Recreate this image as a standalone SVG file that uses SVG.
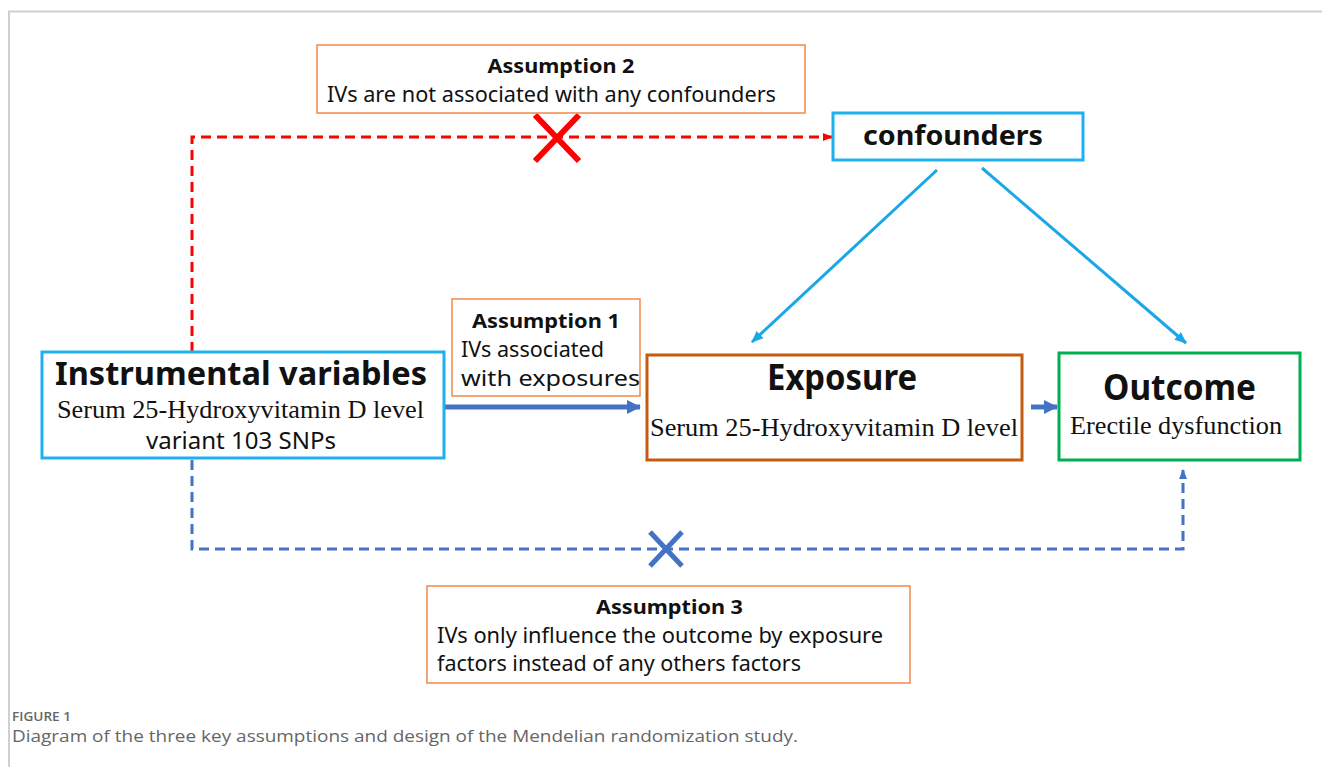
<svg xmlns="http://www.w3.org/2000/svg" width="1322" height="767" viewBox="0 0 1322 767">
<style>
.sans{font-family:"Noto Sans","Liberation Sans",Arial,sans-serif;fill:#111}
.b{font-weight:bold}
.serif{font-family:"Liberation Serif","Times New Roman",serif;fill:#111}
.abox{fill:#fff;stroke:#f0894a;stroke-width:1.5}
.cap{font-family:"Open Sans","Lato","Liberation Sans",sans-serif;fill:#666}
</style>
<defs>
<marker id="mRed" markerUnits="userSpaceOnUse" markerWidth="10" markerHeight="10" refX="9" refY="5" orient="auto"><path d="M0,1 L10,5 L0,9 Z" fill="#ff0000"/></marker>
<marker id="mLB" markerUnits="userSpaceOnUse" markerWidth="12" markerHeight="12" refX="11" refY="6" orient="auto"><path d="M0,1 L12,6 L0,11 Z" fill="#1aa7e8"/></marker>
<marker id="mBlue" markerUnits="userSpaceOnUse" markerWidth="14" markerHeight="14" refX="13" refY="7" orient="auto"><path d="M0,0 L14,7 L0,14 Z" fill="#4472c4"/></marker>
<marker id="mBlueS" markerUnits="userSpaceOnUse" markerWidth="10" markerHeight="10" refX="9" refY="5" orient="auto"><path d="M0,1 L10,5 L0,9 Z" fill="#4472c4"/></marker>
</defs>
<rect width="1322" height="767" fill="#fff"/>
<path d="M9,767 V11.5 H1322" fill="none" stroke="#cfcfcf" stroke-width="2"/>

<g id="connectors">
<path d="M192,352 V137 H832" fill="none" stroke="#ff0000" stroke-width="3" stroke-dasharray="10 6" marker-end="url(#mRed)"/>
<path d="M535,115 L579,161 M579,115 L535,161" stroke="#ff0000" stroke-width="6"/>
<line x1="937" y1="170" x2="752" y2="342" stroke="#1aa7e8" stroke-width="3" marker-end="url(#mLB)"/>
<line x1="982" y1="168" x2="1186" y2="343" stroke="#1aa7e8" stroke-width="3" marker-end="url(#mLB)"/>
<line x1="445" y1="407" x2="640" y2="407" stroke="#4472c4" stroke-width="5" marker-end="url(#mBlue)"/>
<line x1="1031" y1="407" x2="1057" y2="407" stroke="#4472c4" stroke-width="5" marker-end="url(#mBlue)"/>
<path d="M192,460 V549 H1183 V470" fill="none" stroke="#4472c4" stroke-width="3" stroke-dasharray="10 6" marker-end="url(#mBlueS)"/>
<path d="M650,532 L682,566 M682,532 L650,566" stroke="#4472c4" stroke-width="5"/>
</g>

<g id="assumption2">
<rect class="abox" x="317" y="45" width="488" height="68"/>
<text class="sans b" x="561" y="73" font-size="20" text-anchor="middle" textLength="147" lengthAdjust="spacingAndGlyphs">Assumption 2</text>
<text class="sans" x="327" y="102" font-size="21" textLength="449" lengthAdjust="spacingAndGlyphs">IVs are not associated with any confounders</text>
</g>

<g id="confounders">
<rect x="833" y="113" width="250" height="47" fill="#fff" stroke="#1eb0f0" stroke-width="3"/>
<text class="sans b" x="863" y="145" font-size="27" textLength="180" lengthAdjust="spacingAndGlyphs">confounders</text>
</g>

<g id="instrumental">
<rect x="42" y="352" width="402" height="106" fill="#fff" stroke="#1eb0f0" stroke-width="3"/>
<text class="sans b" x="55" y="385" font-size="33" textLength="372" lengthAdjust="spacingAndGlyphs">Instrumental variables</text>
<text class="serif" x="57" y="418" font-size="25" textLength="367" lengthAdjust="spacingAndGlyphs">Serum 25-Hydroxyvitamin D level</text>
<text class="sans" x="146" y="449" font-size="24" textLength="190" lengthAdjust="spacingAndGlyphs">variant 103 SNPs</text>
</g>

<g id="assumption1">
<rect class="abox" x="452" y="299" width="188" height="97"/>
<text class="sans b" x="472" y="328" font-size="20" textLength="148" lengthAdjust="spacingAndGlyphs">Assumption 1</text>
<text class="sans" x="461" y="357" font-size="22" textLength="143" lengthAdjust="spacingAndGlyphs">IVs associated</text>
<text class="sans" x="461" y="386" font-size="22" textLength="179" lengthAdjust="spacingAndGlyphs">with exposures</text>
</g>

<g id="exposure">
<rect x="647" y="355" width="375" height="105" fill="#fff" stroke="#c55a11" stroke-width="3"/>
<text class="sans b" x="767" y="390" font-size="35" textLength="150" lengthAdjust="spacingAndGlyphs">Exposure</text>
<text class="serif" x="650" y="436" font-size="25" textLength="368" lengthAdjust="spacingAndGlyphs">Serum 25-Hydroxyvitamin D level</text>
</g>

<g id="outcome">
<rect x="1059" y="353" width="241" height="107" fill="#fff" stroke="#00b050" stroke-width="3"/>
<text class="sans b" x="1103" y="400" font-size="35" textLength="153" lengthAdjust="spacingAndGlyphs">Outcome</text>
<text class="serif" x="1070" y="434" font-size="25" textLength="212" lengthAdjust="spacingAndGlyphs">Erectile dysfunction</text>
</g>

<g id="assumption3">
<rect class="abox" x="427" y="586" width="483" height="97"/>
<text class="sans b" x="596" y="614" font-size="20" textLength="147" lengthAdjust="spacingAndGlyphs">Assumption 3</text>
<text class="sans" x="437" y="643" font-size="21" textLength="446" lengthAdjust="spacingAndGlyphs">IVs only influence the outcome by exposure</text>
<text class="sans" x="437" y="671" font-size="21" textLength="364" lengthAdjust="spacingAndGlyphs">factors instead of any others factors</text>
</g>

<g id="caption">
<text class="cap" x="12" y="721" font-size="12" font-weight="600" textLength="59" lengthAdjust="spacingAndGlyphs">FIGURE 1</text>
<text class="cap" x="12" y="742" font-size="17" textLength="786" lengthAdjust="spacingAndGlyphs">Diagram of the three key assumptions and design of the Mendelian randomization study.</text>
</g>
</svg>
